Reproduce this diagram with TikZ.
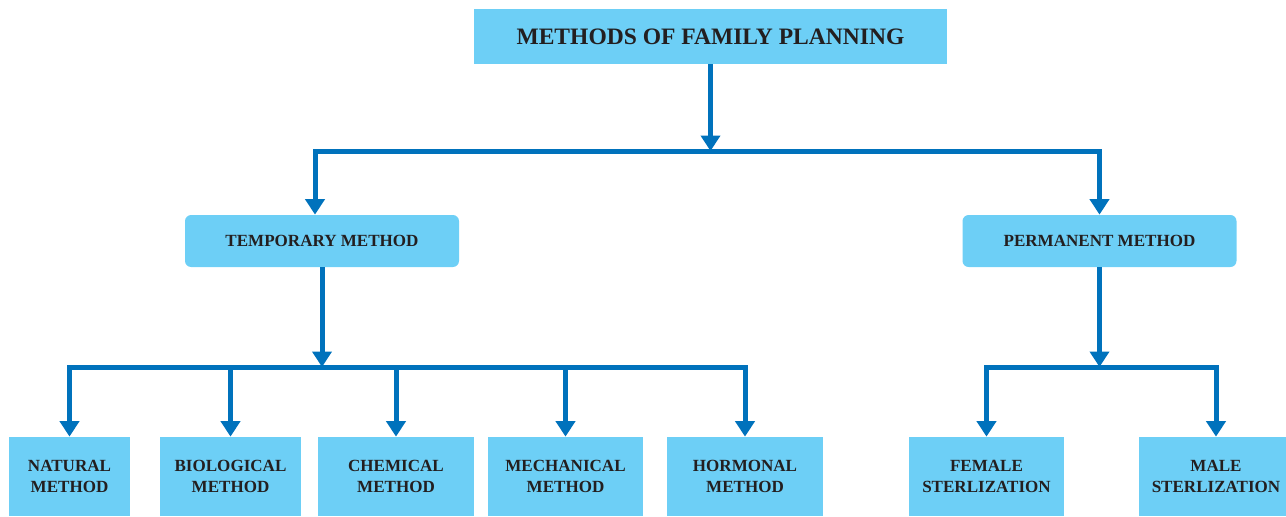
\documentclass[tikz,border=0pt]{standalone}
\usepackage{fontspec}
\setmainfont{Liberation Serif}
\usetikzlibrary{arrows.meta,positioning,calc}
\definecolor{cfill}{RGB}{109,207,246}
\definecolor{cline}{RGB}{0,114,188}
\definecolor{ctext}{RGB}{35,31,32}

\begin{document}
\begin{tikzpicture}[
  font=\bfseries\fontsize{9.7}{11.9}\selectfont,
  text=ctext,
  >={Triangle[width=0.38cm,length=0.31cm]},
  planbox/.style={fill=cfill,minimum width=9.46cm,minimum height=1.10cm,align=center,inner sep=0pt,font=\bfseries\fontsize{13.4}{16}\selectfont},
  methodbox/.style={fill=cfill,rounded corners=3.5pt,minimum width=5.48cm,minimum height=1.04cm,align=center,inner sep=0pt},
  leafbox/.style={fill=cfill,minimum height=1.58cm,align=center,inner sep=0pt},
  arrow/.style={->,line width=0.1cm,draw=cline}
]
  \useasboundingbox (0,0) rectangle (25.72,-10.32);

  \node[planbox] (plan) at (14.21,-0.73) {METHODS OF FAMILY PLANNING};
  \node[methodbox] (temp) at (6.44,-4.82) {TEMPORARY METHOD};
  \node[methodbox] (perm) at (21.99,-4.82) {PERMANENT METHOD};

  \node[leafbox,minimum width=2.42cm] (natural) at (1.39,-9.53) {NATURAL\\METHOD};
  \node[leafbox,minimum width=2.82cm] (biological) at (4.61,-9.53) {BIOLOGICAL\\METHOD};
  \node[leafbox,minimum width=3.12cm] (chemical) at (7.92,-9.53) {CHEMICAL\\METHOD};
  \node[leafbox,minimum width=3.10cm] (mechanical) at (11.31,-9.53) {MECHANICAL\\METHOD};
  \node[leafbox,minimum width=3.12cm] (hormonal) at (14.90,-9.53) {HORMONAL\\METHOD};
  \node[leafbox,minimum width=3.10cm] (female) at (19.73,-9.53) {FEMALE\\STERLIZATION};
  \node[leafbox,minimum width=3.08cm] (male) at (24.32,-9.53) {MALE\\STERLIZATION};

  \coordinate (fork) at (14.21,-3.02);
  \coordinate (tfork) at (6.44,-7.34);
  \coordinate (pfork) at (21.99,-7.34);

  \draw[arrow] (plan) -- (fork);
  \draw[arrow] (fork) -| ([xshift=-0.14cm]temp.north);
  \draw[arrow] (fork) -| (perm.north);

  \draw[arrow] (temp) -- (tfork);
  \foreach \n in {natural,biological,chemical,mechanical,hormonal}
    \draw[arrow] (tfork) -| (\n.north);

  \draw[arrow] (perm) -- (pfork);
  \foreach \n in {female,male}
    \draw[arrow] (pfork) -| (\n.north);
\end{tikzpicture}
\end{document}
